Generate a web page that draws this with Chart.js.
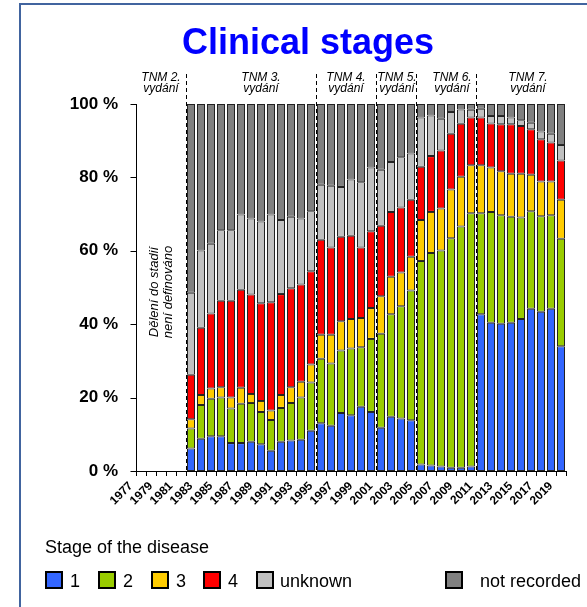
<!DOCTYPE html>
<html>
<head>
<meta charset="utf-8">
<script src="https://cdn.jsdelivr.net/npm/chart.js@4.4.1/dist/chart.umd.min.js"></script>
<style>
  body { margin: 0; background: #fff; }
  canvas { display: block; }
</style>
</head>
<body>
<canvas id="stagesChart" width="587" height="607"></canvas>
<script>
var years = ["1977", "1978", "1979", "1980", "1981", "1982", "1983", "1984", "1985", "1986",
  "1987", "1988", "1989", "1990", "1991", "1992", "1993", "1994", "1995", "1996",
  "1997", "1998", "1999", "2000", "2001", "2002", "2003", "2004", "2005", "2006",
  "2007", "2008", "2009", "2010", "2011", "2012", "2013", "2014", "2015", "2016",
  "2017", "2018", "2019", "2020"];

// percentages per year, 1977-1982 not defined
var stage1 = [null, null, null, null, null, null,
  6.1, 8.8, 9.5, 9.5, 7.6, 7.6, 8.0, 7.3, 5.5, 8.0, 8.3, 8.5, 11.0,
  13.0, 12.3, 15.8, 15.2, 17.5, 16.1,
  11.8, 14.8, 14.3, 13.8,
  1.8, 1.5, 1.2, 0.9, 0.9, 1.2,
  42.7, 40.4, 40.1, 40.4, 41.4, 44.2, 43.4, 44.2, 34.0];
var stage2 = [null, null, null, null, null, null,
  5.5, 9.2, 10.2, 10.5, 9.4, 10.7, 10.5, 8.8, 8.4, 9.2, 10.2, 11.5, 13.1,
  17.6, 17.0, 17.0, 18.2, 16.2, 19.9,
  25.6, 27.9, 30.6, 35.4,
  55.4, 57.9, 58.9, 62.5, 65.7, 69.0,
  27.5, 30.2, 29.6, 28.9, 27.7, 26.6, 26.0, 25.5, 29.3];
var stage3 = [null, null, null, null, null, null,
  2.5, 2.7, 2.8, 2.8, 3.0, 4.4, 2.5, 3.0, 2.6, 3.5, 4.3, 4.3, 4.9,
  6.5, 7.8, 8.0, 8.0, 8.0, 8.4,
  10.2, 10.2, 9.2, 9.2,
  11.2, 11.2, 11.4, 13.3, 13.6, 13.1,
  13.1, 12.1, 12.0, 11.7, 11.9, 9.9, 9.5, 9.2, 10.6];
var stage4 = [null, null, null, null, null, null,
  12.1, 18.3, 20.4, 23.6, 26.4, 26.7, 27.1, 26.6, 29.5, 27.5, 27.0, 26.5, 25.4,
  25.9, 23.8, 23.0, 22.7, 19.2, 20.9,
  19.2, 17.7, 17.7, 15.5,
  14.5, 15.2, 15.8, 15.2, 14.4, 13.0,
  13.0, 12.0, 12.8, 13.5, 13.0, 12.4, 11.5, 10.6, 10.7];
var unknown = [null, null, null, null, null, null,
  22.4, 21.1, 19.0, 19.2, 19.2, 20.5, 20.7, 22.3, 23.9, 20.2, 19.5, 18.0, 16.4,
  15.0, 16.8, 13.6, 15.3, 17.8, 17.4,
  15.3, 13.6, 13.7, 12.6,
  13.4, 11.1, 8.7, 5.9, 3.9, 2.1,
  2.4, 2.0, 2.2, 1.8, 1.6, 1.8, 2.1, 2.4, 4.2];
var notRecorded = [null, null, null, null, null, null,
  51.4, 39.9, 38.1, 34.4, 34.4, 30.1, 31.2, 32.0, 30.1, 31.6, 30.7, 31.2, 29.2,
  22.0, 22.3, 22.6, 20.6, 21.3, 17.3,
  17.9, 15.8, 14.5, 13.5,
  3.7, 3.1, 4.0, 2.2, 1.5, 1.6,
  1.3, 3.3, 3.3, 3.7, 4.4, 5.1, 7.5, 8.1, 11.2];

var yTicks = [0, 20, 40, 60, 80, 100];
var seriesNames = ["1", "2", "3", "4", "unknown", "not recorded"];
var seriesColors = ["#3366ff", "#99cc00", "#ffcc00", "#ff0000", "#c0c0c0", "#808080"];

// TNM editions: first year of each edition, label centre (in years)
var editionStarts = ["1983", "1996", "2002", "2006", "2012"];
var editionLabels = ["TNM 2.", "TNM 3.", "TNM 4.", "TNM 5.", "TNM 6.", "TNM 7."];
var editionLabelAt = [3.0, 13.0, 21.5, 26.6, 32.1, 39.7];

var allSeries = [stage1, stage2, stage3, stage4, unknown, notRecorded];
var datasets = allSeries.map(function (d, i) {
  return {
    label: seriesNames[i],
    data: d,
    backgroundColor: seriesColors[i],
    borderColor: "#222",
    borderWidth: 1,
    borderSkipped: false,
    barPercentage: 0.8,
    categoryPercentage: 1.0
  };
});

var overlay = {
  id: "overlay",
  beforeDraw: function (chart) {
    var c = chart.ctx;
    c.save();
    c.fillStyle = "#fff";
    c.fillRect(0, 0, chart.width, chart.height);
    c.restore();
  },
  afterDraw: function (chart) {
    var c = chart.ctx, x = chart.scales.x, y = chart.scales.y, area = chart.chartArea;
    var step = x.getPixelForValue(1) - x.getPixelForValue(0);
    c.save();

    // frame
    c.strokeStyle = "#41649f";
    c.lineWidth = 2;
    c.strokeRect(20, 4, 700, 700);

    // title
    c.fillStyle = "#0000ff";
    c.font = "bold 36px Arial, 'Liberation Sans'";
    c.textAlign = "center";
    c.textBaseline = "alphabetic";
    c.fillText("Clinical stages", 308, 54);

    // axes
    var axisX = Math.round(area.left + step) + 0.5;
    c.strokeStyle = "#000";
    c.lineWidth = 1;
    c.beginPath();
    c.moveTo(axisX, area.top);
    c.lineTo(axisX, Math.round(area.bottom) + 0.5);
    c.lineTo(area.right, Math.round(area.bottom) + 0.5);
    yTicks.forEach(function (v) {
      var py = Math.round(y.getPixelForValue(v)) + 0.5;
      c.moveTo(axisX - 6, py);
      c.lineTo(axisX, py);
    });
    c.stroke();

    // edition separators
    c.setLineDash([4, 3]);
    editionStarts.forEach(function (yr) {
      var px = Math.round(x.getPixelForValue(years.indexOf(yr)) - step / 2) + 0.5;
      c.beginPath();
      c.moveTo(px, 74);
      c.lineTo(px, area.bottom);
      c.stroke();
    });
    c.setLineDash([]);

    // edition labels
    c.fillStyle = "#000";
    c.font = "italic 12px Arial, 'Liberation Sans'";
    c.textAlign = "center";
    editionLabels.forEach(function (t, i) {
      var px = x.getPixelForValue(0) + editionLabelAt[i] * step;
      c.fillText(t, px, 81);
      c.fillText("vydání", px, 92);
    });

    // note for the years without staging
    c.save();
    c.translate(161, 292);
    c.rotate(-Math.PI / 2);
    c.font = "italic 13px Arial, 'Liberation Sans'";
    c.textAlign = "center";
    c.textBaseline = "middle";
    c.fillText("Dělení do stadií", 0, -7);
    c.fillText("není definováno", 0, 7);
    c.restore();

    // legend
    c.font = "18px Arial, 'Liberation Sans'";
    c.textAlign = "left";
    c.textBaseline = "alphabetic";
    c.fillText("Stage of the disease", 45, 553);
    var boxX = [46, 99, 152, 204, 257, 446];
    var textX = [70, 123, 176, 228, 280, 480];
    seriesNames.forEach(function (n, i) {
      c.fillStyle = seriesColors[i];
      c.fillRect(boxX[i], 572, 16, 16);
      c.strokeStyle = "#000";
      c.lineWidth = 2;
      c.strokeRect(boxX[i], 572, 16, 16);
      c.fillStyle = "#000";
      c.fillText(n, textX[i], 587);
    });
    c.restore();
  }
};

var ctx = document.getElementById("stagesChart").getContext("2d");
var stagesChart = new Chart(ctx, {
  type: "bar",
  data: { labels: years, datasets: datasets },
  options: {
    responsive: false,
    animation: false,
    layout: { padding: { left: 0, right: 21, top: 104, bottom: 76 } },
    scales: {
      x: {
        stacked: true,
        border: { display: false },
        grid: {
          drawOnChartArea: false,
          drawTicks: true,
          tickLength: 5,
          offset: true,
          color: function (c) { return c.index === 0 ? "rgba(0,0,0,0)" : "#000"; }
        },
        ticks: {
          autoSkip: false,
          maxRotation: 45,
          minRotation: 45,
          padding: 3,
          color: "#000",
          font: { family: "Arial, 'Liberation Sans'", size: 12, weight: "bold" },
          callback: function (v, i) { return i % 2 === 0 ? years[i] : ""; }
        },
        afterFit: function (s) { s.height = 60; }
      },
      y: {
        stacked: true,
        min: 0,
        max: 100,
        border: { display: false },
        grid: { display: false, drawTicks: false },
        ticks: {
          stepSize: 20,
          padding: 8,
          color: "#000",
          font: { family: "Arial, 'Liberation Sans'", size: 17, weight: "bold" },
          callback: function (v) { return v + " %"; }
        },
        afterFit: function (s) { s.width = 126; }
      }
    },
    plugins: {
      legend: { display: false },
      tooltip: { enabled: false },
      title: { display: false }
    }
  },
  plugins: [overlay]
});
</script>
</body>
</html>
